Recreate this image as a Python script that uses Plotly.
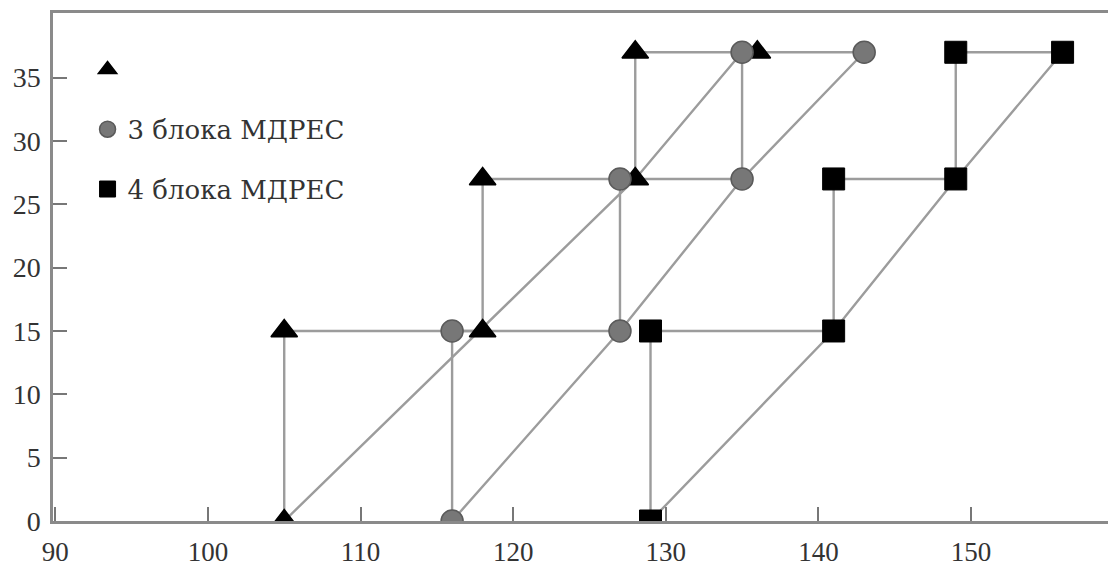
import plotly.graph_objects as go

# ---- data ----
levels = [0, 15, 27, 37]
tri_x = [105, 118, 128, 136]
circ_x = [116, 127, 135, 143]
sq_x = [129, 141, 149, 156]

# diagonal guide lines
tri_diag_x = [105, 128, 135]
tri_diag_y = [0, 27, 37]
circ_diag_x = [116, 127, 135, 143]
circ_diag_y = [0, 15, 27, 37]
sq_diag_x = [129, 141, 149, 156]
sq_diag_y = [0, 15, 27, 37]

names = ["", "3 блока МДРЕС", "4 блока МДРЕС"]
x_ticks = [90, 100, 110, 120, 130, 140, 150]
y_ticks = [0, 5, 10, 15, 20, 25, 30, 35]


def staircase(xs, ys):
    px, py = [xs[0]], [ys[0]]
    for i in range(1, len(ys)):
        px.append(xs[i - 1]); py.append(ys[i])
        px.append(xs[i]); py.append(ys[i])
    return px, py


LINE = dict(color="#9c9c9c", width=2.4)
TICKFONT = dict(family="Liberation Serif, serif", size=28, color="#333333")
XTICKFONT = dict(family="Liberation Serif, serif", size=27, color="#333333")
LEGFONT = dict(family="DejaVu Serif, serif", size=26, color="#333333")

fig = go.Figure()

# step and diagonal lines (behind markers)
for xs in (tri_x, circ_x, sq_x):
    sx, sy = staircase(xs, levels)
    fig.add_trace(go.Scatter(x=sx, y=sy, mode="lines", line=LINE,
                             showlegend=False, hoverinfo="skip"))
for dx, dy in ((tri_diag_x, tri_diag_y), (circ_diag_x, circ_diag_y),
               (sq_diag_x, sq_diag_y)):
    fig.add_trace(go.Scatter(x=dx, y=dy, mode="lines", line=LINE,
                             showlegend=False, hoverinfo="skip"))

markers = [
    dict(symbol="triangle-up", size=23, color="black",
         line=dict(color="black", width=1.5)),
    dict(symbol="circle", size=22, color="#777777",
         line=dict(color="#5a5a5a", width=1.5)),
    dict(symbol="square", size=22, color="black",
         line=dict(color="black", width=1)),
]

for i, xs in enumerate((tri_x, circ_x, sq_x)):
    sx, sy = staircase(xs, levels)
    fig.add_trace(go.Scatter(x=sx, y=sy, mode="markers", marker=markers[i],
                             name=names[i] if names[i] else " ",
                             legendgroup=f"g{i}"))

# the page body adds an 8px margin, so the figure is 8px smaller
fig.update_layout(
    width=1108, height=561,
    margin=dict(l=45, r=0, t=5, b=48),
    plot_bgcolor="white", paper_bgcolor="white",
    font=TICKFONT,
    showlegend=True,
    legend=dict(x=0.0325, y=0.935, xanchor="left", yanchor="top",
                bgcolor="rgba(0,0,0,0)", font=LEGFONT,
                tracegroupgap=23),
    xaxis=dict(range=[89.85, 159.5], tickvals=x_ticks, ticks="inside",
               ticklen=14, tickwidth=1.5, tickcolor="#777",
               tickfont=XTICKFONT, ticklabelstandoff=5, automargin=False,
               showline=True, linecolor="#8a8a8a", linewidth=2.5,
               mirror=True, showgrid=False, zeroline=False),
    yaxis=dict(range=[0, 40.1], tickvals=y_ticks, ticks="inside",
               ticklen=14, tickwidth=1.5, tickcolor="#777",
               tickfont=TICKFONT, ticklabelstandoff=4, automargin=False,
               showline=True, linecolor="#8a8a8a", linewidth=2.5,
               mirror=False, showgrid=False, zeroline=False),
)

fig.write_html("out.html")
